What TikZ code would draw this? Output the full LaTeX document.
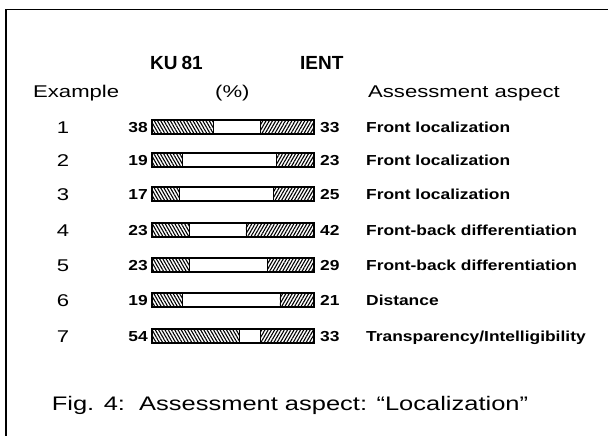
\documentclass[tikz,border=0pt]{standalone}
\usepackage{fontspec}
\setmainfont{Liberation Sans}[FakeStretch=1.3]
\newfontfamily\headfont{Liberation Sans Bold}[FakeStretch=1.0]
\newfontfamily\labfont{Liberation Sans Bold}[FakeStretch=1.2]
\usetikzlibrary{patterns.meta}

\begin{document}
\begin{tikzpicture}[x=1pt, y=-1pt,
        head/.style = {font=\fontsize{19}{21}\headfont, inner sep=0pt, anchor=base west},
        col/.style = {font=\fontsize{17}{19}\selectfont, inner sep=0pt, anchor=base west},
        num/.style = {font=\fontsize{17}{19}\selectfont, inner sep=0pt, anchor=base},
        pct/.style = {font=\fontsize{14.5}{16}\labfont, inner sep=0pt},
        aspect/.style = {font=\fontsize{14.5}{16}\labfont, inner sep=0pt, anchor=base west},
        kuhatch/.style = {pattern={Lines[angle=-60, distance=2.8pt, line width=1.1pt]}},
        ienthatch/.style = {pattern={Lines[angle=60, distance=2.8pt, line width=1.1pt]}},
        bar/.style = {draw, line width=2.5pt},
        frame/.style = {draw, line width=1.4pt},
    ]
    \useasboundingbox (0,0) rectangle (608,436);
    \path[frame] (608,9.5) -- (6,9.5) -- (6,436);

    \node (ku) [head] at (150,70) {KU\kern4pt 81};
    \node (ient) [head] at (300,70) {IENT};
    \node (ex) [col] at (33,98) {Example};
    \node (pc) [col] at (215,98) {(\%)};
    \node (as) [col] at (368,98) {Assessment aspect};

    \foreach \y/\l/\r/\txt [count=\i] in {127/38/33/Front localization,
            160/19/23/Front localization, 194/17/25/Front localization,
            230/23/42/Front-back differentiation, 265/23/29/Front-back differentiation,
            300/19/21/Distance, 336/54/33/{Transparency/Intelligibility}}{
        \pgfmathsetmacro{\xl}{152+1.62*\l}
        \pgfmathsetmacro{\xr}{314-1.62*\r}
        \node (n\i) [num] at (63,\y+6) {\i};
        \node (l\i) [pct, anchor=base east] at (148,\y+5.2) {\l};
        \path[kuhatch] (152,\y-7) rectangle (\xl,\y+7);
        \path[ienthatch] (\xr,\y-7) rectangle (314,\y+7);
        \draw[line width=0.9pt] (\xl,\y-7) -- (\xl,\y+7) (\xr,\y-7) -- (\xr,\y+7);
        \path[bar] (152,\y-7) rectangle (314,\y+7);
        \node (r\i) [pct, anchor=base west] at (320,\y+5.2) {\r};
        \node (a\i) [aspect] at (366,\y+5.2) {\txt};
    }

    \node (cap) [font=\fontsize{19.6}{22}\selectfont, inner sep=0pt, anchor=base] at (290,410)
        {Fig. 4:\ \ Assessment aspect: ``Localization''};
\end{tikzpicture}
\end{document}
